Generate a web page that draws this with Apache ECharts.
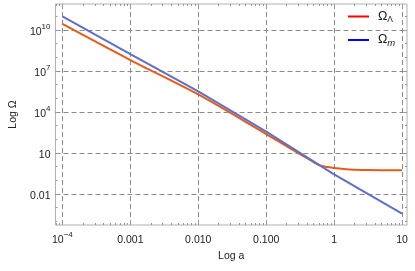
<!DOCTYPE html>
<html><head><meta charset="utf-8">
<script src="https://cdn.jsdelivr.net/npm/echarts@6/dist/echarts.min.js"></script>
<style>html,body{margin:0;padding:0;background:#fff}#c{width:415px;height:271px}</style>
</head><body><div id="c"></div>
<script>
// ---- data ----
const aLambda = [1e-4, 1e-3, 1e-2, 0.1, 0.2, 0.3, 0.4, 0.6, 0.8, 1, 1.5, 2, 3, 5, 10];
const omegaLambda = [2.75e10, 6.3e7, 1.9e5, 2.4e2, 32, 9.5, 4.2, 1.29, 0.93, 0.78, 0.65, 0.6, 0.56, 0.55, 0.55];
const aMatter = [1e-4, 1e-3, 1e-2, 0.1, 1, 10];
const omegaMatter = [9.8e10, 1.7e8, 3.2e5, 3.7e2, 0.27, 3.7e-4];
const seriesNames = ['ΩΛ', 'Ωm'];
const xTickValues = [1e-4, 1e-3, 1e-2, 0.1, 1, 10];
const xTickLabels = ['10^−4', '0.001', '0.010', '0.100', '1', '10'];
const yTickValues = [0.01, 10, 1e4, 1e7, 1e10];
const yTickLabels = ['0.01', '10', '10^4', '10^7', '10^10'];
const xRange = [-4.102, 1.073];   // log10 extent
const yRange = [-4.27, 11.90];

// ---- helpers ----
function minorTicks(lo, hi, majors, perDecadeSteps) {
  const out = [];
  for (let n = Math.floor(lo) - 1; n <= Math.ceil(hi); n++) {
    for (const k of perDecadeSteps) {
      const v = k * Math.pow(10, n);
      const lv = Math.log10(v);
      if (lv < lo || lv > hi) continue;
      if (majors.some(m => Math.abs(Math.log10(m) - lv) < 1e-6)) continue;
      out.push(v);
    }
  }
  return out;
}
const xMinor = minorTicks(xRange[0], xRange[1], xTickValues, [2,3,4,5,6,7,8,9]);
const yMinor = minorTicks(yRange[0], yRange[1], yTickValues, [1]);
function richLabel(s) {
  const p = s.split('^');
  return p.length > 1 ? '{b|' + p[0] + '}{s|' + p[1] + '}' : '{b|' + s + '}';
}
function fmt(values, labels) {
  return function (v) {
    for (let i = 0; i < values.length; i++) {
      if (Math.abs(Math.log10(values[i]) - Math.log10(v)) < 1e-6) return richLabel(labels[i]);
    }
    return '';
  };
}
const FONT = 'Liberation Sans';
const rich = {
  b: { fontSize: 10.5, color: '#222', fontFamily: FONT, lineHeight: 15, verticalAlign: 'bottom' },
  s: { fontSize: 8, color: '#222', fontFamily: FONT, lineHeight: 15, verticalAlign: 'top' }
};
const xMin = Math.pow(10, xRange[0]), xMax = Math.pow(10, xRange[1]);
const yMin = Math.pow(10, yRange[0]), yMax = Math.pow(10, yRange[1]);
const tickColor = '#999';
const gridDash = { color: '#8a8a8a', width: 1, type: [5, 3] };

function xAx(pos, vals, len, extra) {
  return Object.assign({
    type: 'log', logBase: 10, position: pos, min: xMin, max: xMax,
    axisLine: { show: false },
    axisTick: { show: true, inside: true, length: len, customValues: vals, lineStyle: { color: tickColor } },
    axisLabel: { show: false },
    splitLine: { show: false }
  }, extra || {});
}
function yAx(pos, vals, len, extra) {
  return Object.assign({
    type: 'log', logBase: 10, position: pos, min: yMin, max: yMax,
    axisLine: { show: false },
    axisTick: { show: true, inside: true, length: len, customValues: vals, lineStyle: { color: tickColor } },
    axisLabel: { show: false },
    splitLine: { show: false }
  }, extra || {});
}

const chart = echarts.init(document.getElementById('c'), null, { renderer: 'canvas' });
chart.setOption({
  animation: false,
  textStyle: { fontFamily: FONT },
  grid: { left: 52, right: 8, top: 4, bottom: 46, show: true, borderColor: '#b0b0b0', borderWidth: 1, backgroundColor: 'transparent' },
  legend: {
    orient: 'vertical', left: 348, top: 10, padding: 0, itemGap: 9,
    icon: 'rect', itemWidth: 21, itemHeight: 2,
    data: [
      { name: seriesNames[0], itemStyle: { color: '#ff0000' } },
      { name: seriesNames[1], itemStyle: { color: '#0000ff' } }
    ],
    formatter: function (n) { return n === seriesNames[0] ? '{o|Ω}{l|Λ}' : '{o|Ω}{m|m}'; },
    textStyle: {
      rich: {
        o: { fontSize: 12.5, color: '#222', fontFamily: FONT, lineHeight: 16, padding: [0, 0, 0, 4] },
        l: { fontSize: 8.5, color: '#222', fontFamily: FONT, lineHeight: 16, verticalAlign: 'bottom' },
        m: { fontSize: 9.5, color: '#222', fontFamily: FONT, fontStyle: 'italic', lineHeight: 16, verticalAlign: 'bottom' }
      }
    }
  },
  xAxis: [
    xAx('bottom', xTickValues, 4, {
      axisLabel: { show: true, customValues: xTickValues, formatter: fmt(xTickValues, xTickLabels), rich: rich, margin: 6 },
      splitLine: { show: true, lineStyle: gridDash },
      name: 'Log a', nameLocation: 'middle', nameGap: 23,
      nameTextStyle: { fontSize: 10.5, color: '#222', fontFamily: FONT }
    }),
    xAx('top', xTickValues, 4),
    xAx('top', xMinor, 2),      // flips to bottom
    xAx('bottom', xMinor, 2)    // flips to top
  ],
  yAxis: [
    yAx('left', yTickValues, 4, {
      axisLabel: { show: true, customValues: yTickValues, formatter: fmt(yTickValues, yTickLabels), rich: rich, margin: 5 },
      splitLine: { show: true, lineStyle: gridDash },
      name: 'Log Ω', nameLocation: 'middle', nameGap: 34,
      nameTextStyle: { fontSize: 10.5, color: '#222', fontFamily: FONT }
    }),
    yAx('right', yTickValues, 4),
    yAx('right', yMinor, 2),    // flips to left
    yAx('left', yMinor, 2)      // flips to right
  ],
  series: [
    {
      name: seriesNames[0], type: 'line', xAxisIndex: 0, yAxisIndex: 0,
      showSymbol: false, symbol: 'none', smooth: 0.3,
      lineStyle: { width: 2, color: '#e65a1a' }, itemStyle: { color: '#e65a1a' },
      data: aLambda.map((a, i) => [a, omegaLambda[i]])
    },
    {
      name: seriesNames[1], type: 'line', xAxisIndex: 0, yAxisIndex: 0,
      showSymbol: false, symbol: 'none',
      lineStyle: { width: 2, color: '#5d6fc9' }, itemStyle: { color: '#5d6fc9' },
      data: aMatter.map((a, i) => [a, omegaMatter[i]])
    }
  ]
});
</script></body></html>
